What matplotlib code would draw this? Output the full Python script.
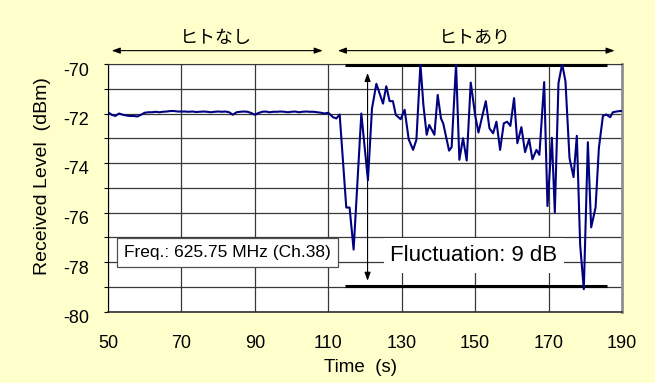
import matplotlib
matplotlib.use('Agg')
import matplotlib.pyplot as plt
from matplotlib.transforms import ScaledTranslation

plt.rcParams['font.family'] = ['Liberation Sans', 'Noto Sans CJK JP', 'DejaVu Sans']

# quiet period (no person), 1 s steps from 50 s
t_quiet = list(range(50, 110))
lvl_quiet = [-71.95, -72.05, -72.1, -72.0, -72.05, -72.08, -72.1, -72.1, -72.12, -72.05,
             -71.97, -71.95, -71.95, -71.93, -71.95, -71.93, -71.92, -71.9, -71.9, -71.92,
             -71.92, -71.92, -71.93, -71.92, -71.94, -71.93, -71.92, -71.93, -71.95, -71.93,
             -71.92, -71.93, -71.92, -71.95, -72.05, -71.95, -71.93, -71.92, -71.93, -71.98,
             -72.05, -71.98, -71.93, -71.92, -71.95, -71.93, -71.93, -71.92, -71.93, -71.95,
             -71.93, -71.92, -71.95, -71.93, -71.92, -71.93, -71.93, -71.95, -71.97, -72.0]

# person present
t_person = [110.0, 111.3, 112.2, 113.1, 114.9, 115.8, 116.9, 119.0, 120.8, 121.9,
            123.1, 124.9, 125.8, 126.7, 127.6, 128.4, 129.7, 130.8, 131.9, 133.1,
            134.0, 135.1, 135.9, 136.8, 137.5, 138.9, 139.8, 140.7, 141.3, 142.9,
            143.6, 144.8, 145.7, 146.7, 147.7, 148.8, 150.0, 150.9, 152.9, 153.9,
            154.9, 155.8, 156.8, 157.8, 158.7, 159.6, 160.6, 161.5, 162.6, 163.6,
            164.7, 165.6, 166.7, 167.5, 168.8, 169.7, 170.9, 171.7, 172.7, 173.7,
            174.6, 175.7, 176.8, 177.7, 178.6, 179.6, 180.7, 181.6, 182.8, 183.7,
            184.8, 185.7, 186.8, 187.5, 188.5, 189.5, 190.0]
lvl_person = [-71.97, -72.15, -72.2, -72.04, -75.8, -75.8, -77.5, -72.0, -74.7, -71.8,
              -70.8, -71.6, -70.9, -71.5, -71.5, -72.06, -72.23, -71.85, -73.04, -73.47,
              -73.06, -70.0, -71.65, -72.86, -72.46, -72.86, -71.25, -72.2, -72.4, -73.5,
              -73.36, -70.0, -73.87, -73.0, -73.9, -70.75, -72.06, -72.77, -71.5, -72.6,
              -72.8, -72.33, -73.47, -72.4, -72.33, -72.5, -71.38, -73.2, -72.55, -73.56,
              -73.04, -73.85, -73.47, -73.67, -70.73, -75.74, -72.98, -76.0, -70.77, -70.0,
              -70.7, -73.8, -74.57, -72.9, -77.3, -79.1, -73.16, -76.6, -75.8, -73.4,
              -72.1, -72.04, -72.15, -71.95, -71.92, -71.9, -71.9]

x_ticks = [50, 70, 90, 110, 130, 150, 170, 190]
y_ticks = [-80, -78, -76, -74, -72, -70]

fig = plt.figure(figsize=(6.55, 3.83), dpi=100, facecolor='#FFFFCC')
ax = fig.add_axes([108/655, 1-311.5/383, 514/655, 247.5/383])
ax.set_facecolor('white')
ax.set_xlim(50, 190)
ax.set_ylim(-80, -70)

ax.set_xticks(x_ticks)
ax.set_yticks(y_ticks)
ax.set_yticks(range(-79, -70, 2), minor=True)
ax.set_yticklabels([str(v) for v in y_ticks])
ax.grid(True, which='both', color='#383838', lw=0.9, zorder=0)
ax.set_axisbelow(True)
ax.tick_params(axis='y', which='both', direction='out', length=3, width=0.8,
               pad=10.5, labelsize=13)
ax.tick_params(axis='x', length=0, pad=17, labelsize=13)
# Excel puts the value labels a little below their grid lines
shift = ScaledTranslation(0, -5/100, fig.dpi_scale_trans)
for lab in ax.get_yticklabels():
    lab.set_transform(lab.get_transform() + shift)

ax.spines['left'].set_color('black')
ax.spines['top'].set_color('#383838')
ax.spines['bottom'].set_color('#303030')
ax.spines['right'].set_color('#909090')
ax.spines['right'].set_linewidth(2)
ax.spines['bottom'].set_linewidth(1.2)

ax.plot(t_quiet + t_person, lvl_quiet + lvl_person, color='#000080', lw=1.5, zorder=4)

fig.text(43/655, 1-176/383, 'Received Level  (dBm)', rotation=90, ha='center',
         va='center', fontsize=14)
fig.text(360/655, 1-368/383, 'Time  (s)', ha='center', va='center', fontsize=13.5)

# period arrows and labels
arrow = dict(arrowstyle='<|-|>,head_length=0.5,head_width=0.18', color='black',
             lw=0.8, shrinkA=0, shrinkB=0)
ax.annotate('', xy=(51.0, -69.46), xytext=(108.5, -69.46), arrowprops=arrow,
            annotation_clip=False)
ax.annotate('', xy=(112.6, -69.46), xytext=(188.0, -69.46), arrowprops=arrow,
            annotation_clip=False)
ax.text(79.3, -68.95, 'ヒトなし', ha='center', va='center', fontsize=13,
        family=['Noto Sans CJK JP'], clip_on=False)
ax.text(150.0, -68.95, 'ヒトあり', ha='center', va='center', fontsize=13,
        family=['Noto Sans CJK JP'], clip_on=False)

# fluctuation range
ax.plot([114.5, 185.8], [-70.05, -70.05], color='black', lw=2.2, zorder=3,
        solid_capstyle='butt', clip_on=False)
ax.plot([114.5, 185.8], [-78.96, -78.96], color='black', lw=2.2, zorder=3,
        solid_capstyle='butt')
ax.annotate('', xy=(120.7, -70.36), xytext=(120.7, -78.76), arrowprops=arrow, zorder=2)
ax.text(149.7, -77.74, 'Fluctuation: 9 dB', ha='center', va='center', fontsize=16,
        zorder=3, bbox=dict(boxstyle='square,pad=0.3', fc='white', ec='none'))

ax.text(82.5, -77.6, 'Freq.: 625.75 MHz (Ch.38)', ha='center', va='center',
        fontsize=12.5, zorder=5,
        bbox=dict(boxstyle='square,pad=0.4', fc='white', ec='#505050', lw=0.9))

fig.savefig('out.png', dpi=100, facecolor=fig.get_facecolor())
